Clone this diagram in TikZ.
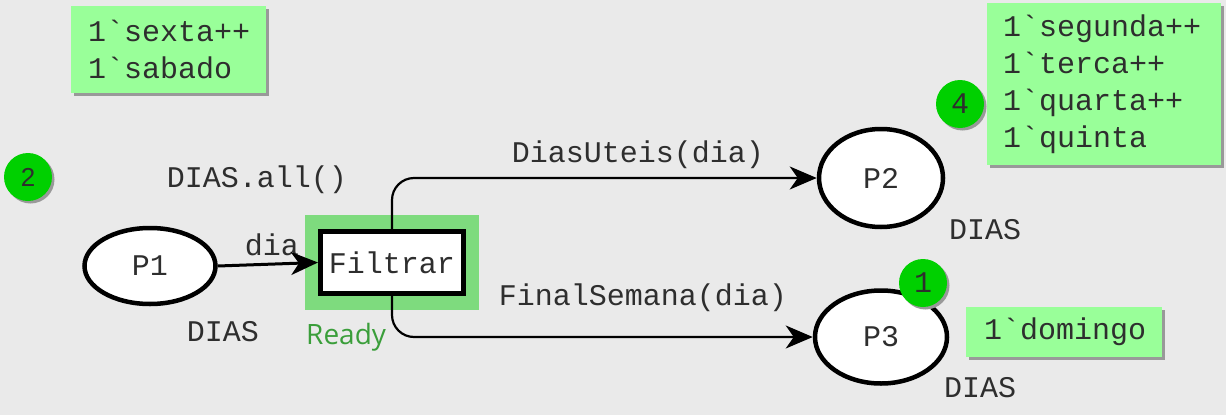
\documentclass[tikz,border=0pt]{standalone}
\usepackage{fontspec}
\setmonofont{Liberation Mono}
\newfontfamily\readyfont{Open Sans}
\newfontfamily\tokfont{Liberation Sans}
\usetikzlibrary{shapes.geometric,arrows.meta,shadows}
\definecolor{bgc}{HTML}{EAEAEA}
\definecolor{markc}{HTML}{99FF99}
\definecolor{tokc}{HTML}{00D000}
\definecolor{hlc}{HTML}{7EDB7E}
\definecolor{readyc}{HTML}{3A9E3A}
\definecolor{txtc}{HTML}{2E2E2E}
\begin{document}
\begin{tikzpicture}[x=1pt,y=-1pt,
  mono/.style={font=\ttfamily\fontsize{30}{37}\selectfont, text=txtc},
  place/.style={ellipse, draw, line width=4.5pt, fill=white, inner sep=0pt, mono},
  trans/.style={rectangle, draw, line width=5pt, fill=white, inner sep=0pt, mono},
  hlbox/.style={rectangle, fill=hlc, inner sep=0pt},
  lbl/.style={mono, inner sep=0pt},
  shad/.style={drop shadow={shadow xshift=2.5pt, shadow yshift=-2.5pt, fill=black!40, opacity=1}},
  marking/.style={rectangle, fill=markc, align=left, mono, inner ysep=0pt, shad},
  token/.style={circle, fill=tokc, minimum size=48pt, inner sep=0pt, shad},
  arc/.style={draw, line width=2.2pt, -{Stealth[length=27pt,width=23pt,inset=8pt]}},
]
\useasboundingbox (0,0) rectangle (1226,415);
\fill[bgc] (0,0) rectangle (1226,415);

% transition highlight and transition
\node[hlbox, minimum width=174pt, minimum height=95pt] (TH) at (392,262.5) {};
\node[trans, minimum width=143pt, minimum height=62pt] (T) at (392,262.5) {Filtrar};
\node[font=\readyfont\fontsize{28}{32}\selectfont, text=readyc, anchor=west, inner sep=0pt] (RDY) at (306,337) {Ready};

% places
\node[place, minimum width=131pt, minimum height=76pt] (P1) at (150,266) {P1};
\node[place, minimum width=124pt, minimum height=98pt] (P2) at (881,178) {P2};
\node[place, minimum width=132pt, minimum height=93pt] (P3) at (881,337) {P3};

% labels
\node[lbl] (L1) at (257,180) {DIAS.all()};
\node[lbl] (L2) at (272,245) {dia};
\node[lbl] (L3) at (223,332) {DIAS};
\node[lbl] (L4) at (638,155) {DiasUteis(dia)};
\node[lbl] (L5) at (643,298) {FinalSemana(dia)};
\node[lbl] (L6) at (985,230) {DIAS};
\node[lbl] (L7) at (980,388) {DIAS};

% arcs
\draw[arc, line width=3pt] (P1.east) -- (T.west);
\draw[arc, rounded corners=22pt] (T.north) |- (P2.west);
\draw[arc, rounded corners=22pt] (T.south) |- (P3.west);

% markings
\node[marking, minimum height=87pt, text width=161pt, inner xsep=17pt] (M1) at (168.5,49.5) {1`sexta++\\1`sabado};
\node[marking, minimum height=162pt, text width=202pt, inner xsep=16pt] (M2) at (1104,84) {1`segunda++\\1`terca++\\1`quarta++\\1`quinta};
\node[marking, minimum height=50pt, text width=160pt, inner xsep=18pt] (M3) at (1064,332) {1`domingo};

% tokens
\node[token, font=\tokfont\fontsize{26}{30}\selectfont, text=txtc] (K1) at (28,177) {2};
\node[token, mono, font=\ttfamily\fontsize{30}{34}\selectfont] (K2) at (960,104) {4};
\node[token, mono, font=\ttfamily\fontsize{30}{34}\selectfont] (K3) at (923,283) {1};
\end{tikzpicture}
\end{document}
